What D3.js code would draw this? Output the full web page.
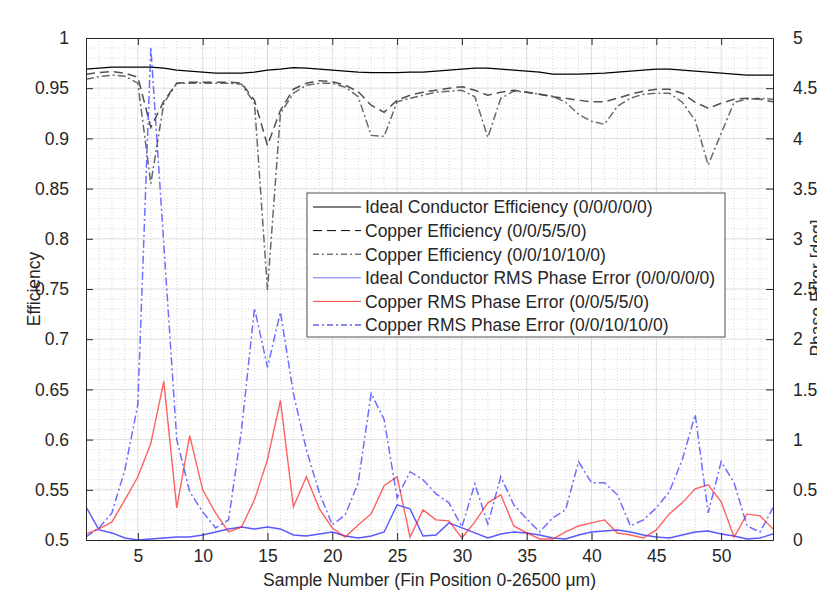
<!DOCTYPE html>
<head>
  <title>Efficiency and RMS Phase Error by Sample</title>
  <style>
    body { margin: 0; background: #fff; }
    text { font-family: "Liberation Sans", Arial, sans-serif; fill: #262626; }
  </style>
</head>
<body>
  <script src="https://cdn.jsdelivr.net/npm/d3@7"></script>
  <script>
    // sample number along the fin
    var samples = [1,2,3,4,5,6,7,8,9,10,11,12,13,14,15,16,17,18,19,20,21,22,23,24,25,26,27,
                   28,29,30,31,32,33,34,35,36,37,38,39,40,41,42,43,44,45,46,47,48,49,50,51,52,53,54];

    // efficiency series (left axis)
    var idealEff = [.969,.970,.971,.971,.971,.971,.970,.968,.967,.966,
                    .965,.965,.965,.966,.968,.969,.9705,.970,.969,.968,
                    .967,.966,.9655,.9655,.9655,.966,.966,.967,.968,.969,
                    .970,.970,.969,.968,.967,.966,.964,.964,.964,.9645,
                    .965,.966,.967,.968,.969,.969,.968,.967,.966,.965,
                    .964,.963,.963,.963];
    var copper5Eff = [.964,.9655,.9665,.965,.961,.911,.937,.955,.956,.956,
                      .956,.956,.955,.938,.893,.928,.949,.955,.9575,.9565,
                      .953,.9465,.933,.926,.938,.943,.946,.948,.950,.9515,
                      .948,.943,.946,.948,.946,.944,.9415,.940,.938,.9365,
                      .9365,.940,.944,.947,.949,.949,.945,.936,.930,.935,
                      .939,.940,.939,.9365];
    var copper10Eff = [.959,.9615,.963,.962,.955,.855,.935,.955,.955,.955,
                       .955,.955,.954,.935,.749,.925,.945,.953,.955,.955,
                       .951,.9415,.903,.902,.9365,.940,.943,.946,.947,.948,
                       .9415,.901,.940,.947,.946,.944,.942,.936,.924,.917,
                       .914,.932,.940,.944,.945,.945,.936,.918,.8735,.905,
                       .936,.939,.940,.939];

    // RMS phase error series in deg (right axis)
    var idealRMS = [.33,.10,.07,.02,.00,.01,.02,.03,.03,.05,
                    .08,.11,.13,.11,.13,.11,.05,.04,.06,.08,
                    .04,.02,.04,.08,.35,.31,.04,.05,.17,.12,
                    .07,.02,.06,.08,.07,.05,.02,.01,.05,.08,
                    .09,.10,.08,.05,.03,.02,.05,.08,.09,.06,
                    .04,.01,.02,.06];
    var copper5RMS = [.06,.11,.18,.40,.63,.96,1.58,.32,1.04,.50,
                      .27,.08,.13,.40,.80,1.39,.33,.63,.31,.12,
                      .03,.15,.26,.54,.63,.03,.30,.20,.19,.02,
                      .18,.37,.45,.14,.07,.01,.01,.08,.14,.17,
                      .20,.07,.05,.02,.10,.26,.37,.51,.55,.38,
                      .03,.26,.24,.11];
    var copper10RMS = [.03,.12,.27,.70,1.35,4.91,2.95,1.00,.48,.28,
                       .12,.20,1.10,2.31,1.72,2.27,1.46,.90,.47,.15,
                       .25,.57,1.46,1.20,.42,.68,.60,.46,.37,.13,
                       .56,.16,.63,.35,.21,.08,.22,.30,.78,.57,
                       .57,.45,.14,.20,.32,.48,.80,1.25,.27,.78,
                       .57,.14,.08,.32];

    var xTicks = [5,10,15,20,25,30,35,40,45,50];
    var leftTicks = [0.5,0.55,0.6,0.65,0.7,0.75,0.8,0.85,0.9,0.95,1];
    var rightTicks = [0,0.5,1,1.5,2,2.5,3,3.5,4,4.5,5];

    var legendLabels = ["Ideal Conductor Efficiency (0/0/0/0/0)",
                        "Copper Efficiency (0/0/5/5/0)",
                        "Copper Efficiency (0/0/10/10/0)",
                        "Ideal Conductor RMS Phase Error (0/0/0/0/0)",
                        "Copper RMS Phase Error (0/0/5/5/0)",
                        "Copper RMS Phase Error (0/0/10/10/0)"];

    // plot box
    var pLeft = 86, pRight = 773, pTop = 38, pBottom = 540;
    var fs = "17.5px";

    var x = d3.scaleLinear().domain([1, 54]).range([pLeft, pRight]);
    var yL = d3.scaleLinear().domain([0.5, 1]).range([pBottom, pTop]);
    var yR = d3.scaleLinear().domain([0, 5]).range([pBottom, pTop]);

    var svg = d3.select("body").append("svg")
        .attr("width", 817)
        .attr("height", 592);

    svg.append("clipPath").attr("id", "plot")
      .append("rect").attr("x", pLeft).attr("y", pTop)
      .attr("width", pRight - pLeft).attr("height", pBottom - pTop);

    // minor grid (dotted)
    var grid = svg.append("g");
    grid.selectAll(".mx").data(d3.range(2, 54).filter(function(d){ return d % 5; }))
      .enter().append("line")
        .attr("x1", function(d){ return x(d); }).attr("x2", function(d){ return x(d); })
        .attr("y1", pTop).attr("y2", pBottom)
        .attr("stroke", "#d9d9d9").attr("stroke-dasharray", "1,2");
    grid.selectAll(".my").data(d3.range(51, 100).filter(function(d){ return d % 5; }))
      .enter().append("line")
        .attr("x1", pLeft).attr("x2", pRight)
        .attr("y1", function(d){ return yL(d / 100); }).attr("y2", function(d){ return yL(d / 100); })
        .attr("stroke", "#d9d9d9").attr("stroke-dasharray", "1,2");

    // major grid
    grid.selectAll(".gx").data(xTicks).enter().append("line")
        .attr("x1", function(d){ return x(d); }).attr("x2", function(d){ return x(d); })
        .attr("y1", pTop).attr("y2", pBottom)
        .attr("stroke", "#dedede");
    grid.selectAll(".gy").data(leftTicks.slice(1, -1)).enter().append("line")
        .attr("x1", pLeft).attr("x2", pRight)
        .attr("y1", function(d){ return yL(d); }).attr("y2", function(d){ return yL(d); })
        .attr("stroke", "#dedede");

    // series
    var series = [
      { v: idealEff, y: yL, color: "#000", dash: null, w: 1.2, op: 1 },
      { v: copper5Eff, y: yL, color: "#333", dash: "9,5", w: 1.5, op: 0.85 },
      { v: copper10Eff, y: yL, color: "#444", dash: "8,3,2,3", w: 1.5, op: 0.8 },
      { v: idealRMS, y: yR, color: "#2020ff", dash: null, w: 1.4, op: 0.75 },
      { v: copper5RMS, y: yR, color: "#ff2020", dash: null, w: 1.4, op: 0.7 },
      { v: copper10RMS, y: yR, color: "#3030ff", dash: "8,3,2,3", w: 1.5, op: 0.7 }
    ];

    var lines = svg.append("g").attr("clip-path", "url(#plot)");
    series.forEach(function(s) {
      var line = d3.line()
          .x(function(d, i){ return x(samples[i]); })
          .y(function(d){ return s.y(d); });
      lines.append("path").datum(s.v)
          .attr("d", line)
          .attr("fill", "none")
          .attr("stroke", s.color)
          .attr("stroke-width", s.w)
          .attr("stroke-opacity", s.op)
          .attr("stroke-dasharray", s.dash);
    });

    // axes
    var fmt = function(d){ return String(+d.toFixed(2)); };

    svg.append("g").attr("transform", "translate(0," + pBottom + ")")
        .call(d3.axisBottom(x).tickValues(xTicks).tickSizeInner(-7).tickSizeOuter(0).tickPadding(10));
    svg.append("g").attr("transform", "translate(0," + pTop + ")")
        .call(d3.axisTop(x).tickValues(xTicks).tickSizeInner(-7).tickSizeOuter(0).tickFormat(""));
    svg.append("g").attr("transform", "translate(" + pLeft + ",0)")
        .call(d3.axisLeft(yL).tickValues(leftTicks).tickFormat(fmt).tickSizeInner(-7).tickSizeOuter(0).tickPadding(17));
    svg.append("g").attr("transform", "translate(" + pRight + ",0)")
        .call(d3.axisRight(yR).tickValues(rightTicks).tickFormat(fmt).tickSizeInner(-7).tickSizeOuter(0).tickPadding(20));

    svg.selectAll(".domain").attr("stroke", "#262626");
    svg.selectAll(".tick line").attr("stroke", "#262626");
    svg.selectAll(".tick text").style("font-size", fs).attr("fill", "#262626")
        .style("font-family", "'Liberation Sans', Arial, sans-serif");

    // axis titles
    svg.append("text")
        .attr("x", (pLeft + pRight) / 2).attr("y", 586)
        .attr("text-anchor", "middle").style("font-size", fs)
        .text("Sample Number (Fin Position 0-26500 \u03bcm)");
    svg.append("text")
        .attr("transform", "translate(40," + ((pTop + pBottom) / 2) + ") rotate(-90)")
        .attr("text-anchor", "middle").style("font-size", fs)
        .text("Efficiency");
    svg.append("text")
        .attr("transform", "translate(823," + ((pTop + pBottom) / 2 - 1) + ") rotate(-90)")
        .attr("text-anchor", "middle").style("font-size", fs)
        .text("Phase Error [deg]");

    // legend
    var lg = svg.append("g");
    lg.append("rect")
        .attr("x", 307).attr("y", 193).attr("width", 418).attr("height", 144)
        .attr("fill", "#fff").attr("stroke", "#262626").attr("stroke-width", 0.8);
    var legendColors = ["#000", "#000", "#333", "#7070ff", "#ff4040", "#1010e0"];
    var legendDash = [null, "9,5", "6,3,2,3", null, null, "6,3,2,3"];
    legendLabels.forEach(function(t, i) {
      var cy = 207 + i * 23.6;
      lg.append("line")
          .attr("x1", 313).attr("x2", 361).attr("y1", cy).attr("y2", cy)
          .attr("stroke", legendColors[i]).attr("stroke-width", 1)
          .attr("stroke-dasharray", legendDash[i]);
      lg.append("text")
          .attr("x", 365).attr("y", cy).attr("dy", "0.36em")
          .style("font-size", fs)
          .text(t);
    });
  </script>
</body>
